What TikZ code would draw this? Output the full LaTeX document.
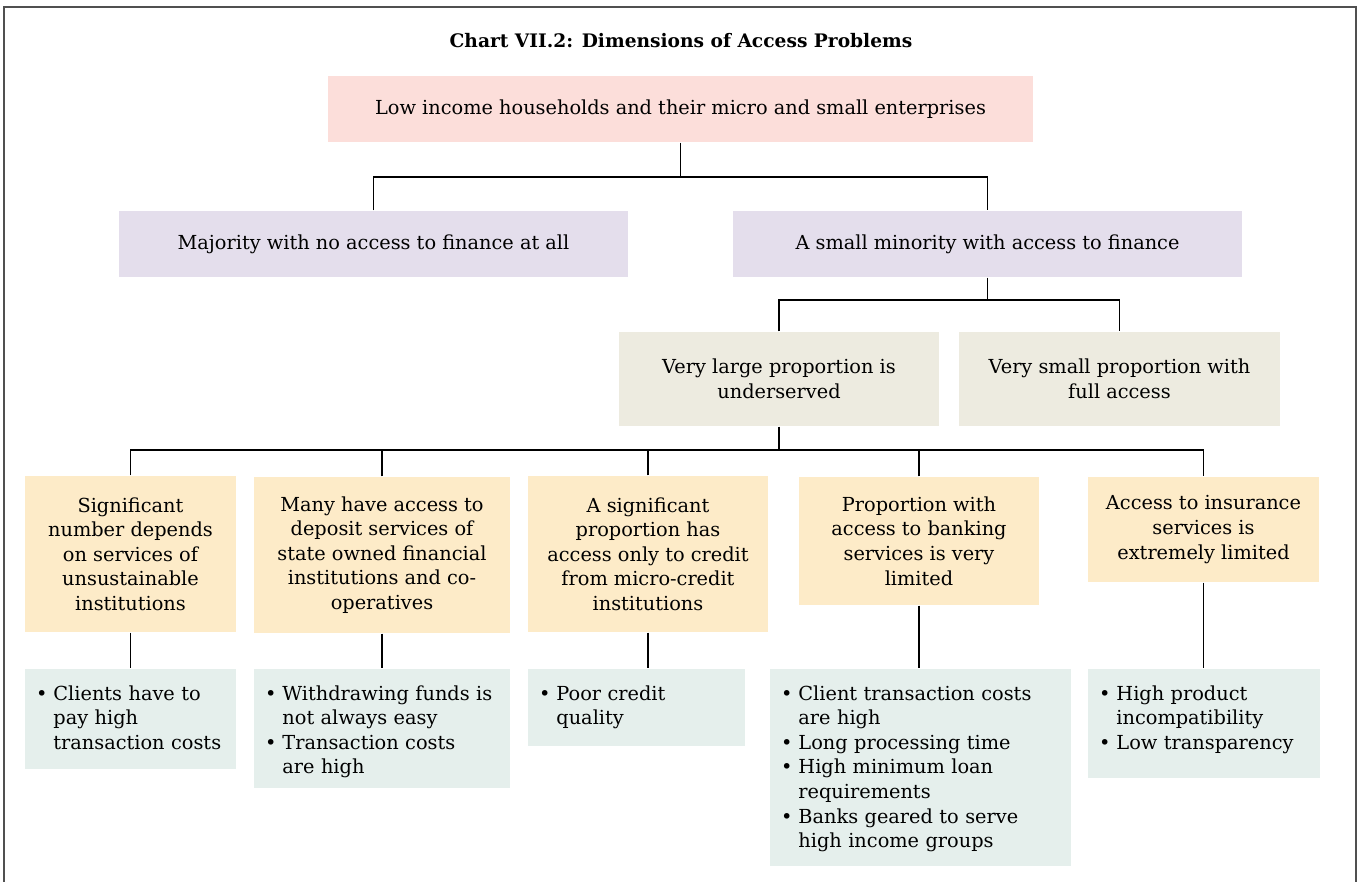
\documentclass[tikz,border=0pt]{standalone}
\usepackage{fontspec}
\setmainfont{DejaVu Serif}

\definecolor{incomepink}{RGB}{252,222,218}
\definecolor{accesslilac}{RGB}{228,222,236}
\definecolor{sharebeige}{RGB}{237,235,224}
\definecolor{problemyellow}{RGB}{253,235,200}
\definecolor{issuemint}{RGB}{229,239,236}
\definecolor{framegray}{RGB}{80,80,80}

% bullet with hanging indent
\newcommand{\bitem}[1]{\par\hangindent=0.9em\hangafter=1\noindent
  \makebox[0.9em][l]{\textbullet}{\let\\\newline #1}}
% extra space under a list
\newcommand{\listpad}[1]{\par\vspace{#1}\hrule height 0pt\relax}

\begin{document}
\begin{tikzpicture}[x=0.02cm, y=-0.02cm, line width=0.6pt,
    font=\fontsize{11}{14}\selectfont,
    chartbox/.style={inner sep=0pt, align=center},
    listbox/.style={fill=issuemint, anchor=north, align=left,
                    inner xsep=0.22cm, inner ysep=0.14cm}]

\useasboundingbox (0,0) rectangle (1359,882);

% ═══════════════════════════════════════════════════════
% MARCO Y TÍTULO
% ═══════════════════════════════════════════════════════

\draw[framegray, line width=1.2pt]
    (4,882) -- (4,7) -- (1356,7) -- (1356,882);

\node[font=\fontsize{10.6}{12}\selectfont\bfseries] (title) at (681,41)
    {Chart VII.2: Dimensions of Access Problems};

% ═══════════════════════════════════════════════════════
% NIVELES SUPERIORES
% ═══════════════════════════════════════════════════════

% Hogares
\node[chartbox, fill=incomepink, minimum width=14.1cm, minimum height=1.32cm]
    (top) at (680.5,109)
    {Low income households and their micro and small enterprises};

% Acceso / sin acceso
\node[chartbox, fill=accesslilac, minimum width=10.18cm, minimum height=1.32cm]
    (l2a) at (373.5,244) {Majority with no access to finance at all};
\node[chartbox, fill=accesslilac, minimum width=10.18cm, minimum height=1.32cm]
    (l2b) at (987.5,244) {A small minority with access to finance};

% Proporciones
\node[chartbox, fill=sharebeige, minimum width=6.4cm, minimum height=1.88cm]
    (l3a) at (779,379) {Very large proportion is\\underserved};
\node[chartbox, fill=sharebeige, minimum width=6.42cm, minimum height=1.88cm]
    (l3b) at (1119.5,379) {Very small proportion with\\full access};

% ═══════════════════════════════════════════════════════
% PROBLEMAS
% ═══════════════════════════════════════════════════════

\node[chartbox, fill=problemyellow, minimum width=4.22cm, minimum height=3.12cm]
    (l4a) at (130.5,554)
    {Significant\\number depends\\on services of\\unsustainable\\institutions};
\node[chartbox, fill=problemyellow, minimum width=5.12cm, minimum height=3.12cm]
    (l4b) at (382,555)
    {Many have access to\\deposit services of\\state owned financial\\institutions and co-\\operatives};
\node[chartbox, fill=problemyellow, minimum width=4.8cm, minimum height=3.12cm]
    (l4c) at (648,554)
    {A significant\\proportion has\\access only to credit\\from micro-credit\\institutions};
\node[chartbox, fill=problemyellow, minimum width=4.8cm, minimum height=2.56cm]
    (l4d) at (919,541)
    {Proportion with\\access to banking\\services is very\\limited};
\node[chartbox, fill=problemyellow, minimum width=4.62cm, minimum height=2.1cm]
    (l4e) at (1203.5,529.5)
    {Access to insurance\\services is\\extremely limited};

% ═══════════════════════════════════════════════════════
% CONSECUENCIAS (listas)
% ═══════════════════════════════════════════════════════

\node[listbox, text width=3.78cm] (l5a) at (130.5,668)
    {\bitem{Clients have to\\pay high\\transaction costs}\listpad{0.24cm}};
\node[listbox, text width=4.68cm] (l5b) at (382,668)
    {\bitem{Withdrawing funds is\\not always easy}
     \bitem{Transaction costs\\are high}\listpad{0.05cm}};
\node[listbox, text width=3.9cm] (l5c) at (636.5,668)
    {\bitem{Poor credit\\quality}\listpad{0.2cm}};
\node[listbox, text width=5.58cm] (l5d) at (920.5,668)
    {\bitem{Client transaction costs\\are high}
     \bitem{Long processing time}
     \bitem{High minimum loan\\requirements}
     \bitem{Banks geared to serve\\high income groups}\listpad{0.14cm}};
\node[listbox, text width=4.2cm] (l5e) at (1204,668)
    {\bitem{High product\\incompatibility}
     \bitem{Low transparency}\listpad{0.34cm}};

% ═══════════════════════════════════════════════════════
% CONEXIONES
% ═══════════════════════════════════════════════════════

% hogares -> nivel 2
\coordinate (j1) at (680.5,177);
\draw (top.south) -- (j1);
\draw (l2a.north) |- (j1) -| (l2b.north);

% minoría -> proporciones
\coordinate (j2) at (987.5,300);
\draw (l2b.south) -- (j2);
\draw (l3a.north) |- (j2) -| (l3b.north);

% desatendidos -> problemas
\coordinate (j3) at (779,450);
\draw (l3a.south) -- (j3);
\draw (l4a.north) |- (j3) -| (l4e.north);
\foreach \n in {l4b,l4c,l4d}
    \draw (\n.north) -- (\n.north |- j3);

% problemas -> listas
\foreach \a/\b in {l4a/l5a,l4b/l5b,l4c/l5c,l4d/l5d,l4e/l5e}
    \draw (\a.south) -- (\a.south |- \b.north);

\end{tikzpicture}
\end{document}
